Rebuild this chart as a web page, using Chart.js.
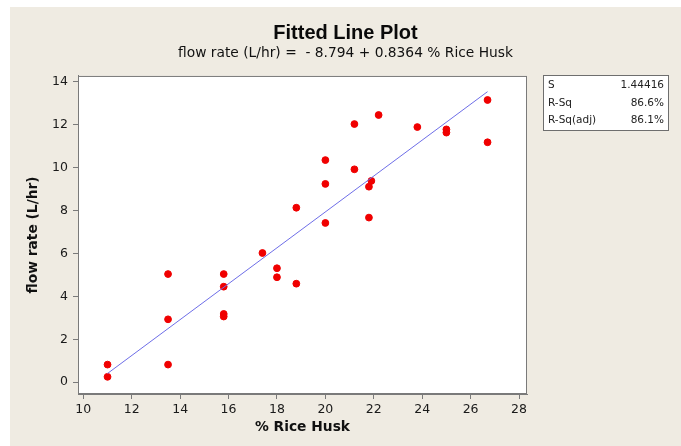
<!DOCTYPE html>
<html lang="en">
<head>
    <meta charset="UTF-8">
    <title>Fitted Line Plot</title>
    <script src="https://cdn.jsdelivr.net/npm/chart.js"></script>
    <style>
        html, body { margin: 0; padding: 0; background: #ffffff; }
        #wrap { width: 681px; height: 446px; }
    </style>
</head>
<body>
    <div id="wrap"><canvas id="fitChart" width="681" height="446"></canvas></div>

    <script>
        // % Rice Husk vs flow rate readings
        const riceHusk = [11.0, 11.0, 13.5, 13.5, 13.5, 15.8, 15.8, 15.8, 15.8, 17.4, 18.0, 18.0,
                          18.8, 18.8, 20.0, 20.0, 20.0, 21.2, 21.2, 21.8, 21.8, 21.9, 22.2, 23.8,
                          25.0, 25.0, 26.7, 26.7];
        const flowRate = [0.82, 0.25, 5.04, 2.93, 0.82, 5.04, 4.45, 3.18, 3.06, 6.02, 5.31, 4.89,
                          8.13, 4.59, 10.35, 9.24, 7.42, 12.03, 9.92, 9.11, 7.67, 9.38, 12.45, 11.89,
                          11.78, 11.63, 13.15, 11.18];

        // regression: flow = intercept + slope * husk
        const intercept = -8.794;
        const slope = 0.8364;

        const xTicks = [10, 12, 14, 16, 18, 20, 22, 24, 26, 28];
        const yTicks = [0, 2, 4, 6, 8, 10, 12, 14];

        const statLabels = ['S', 'R-Sq', 'R-Sq(adj)'];
        const statValues = ['1.44416', '86.6%', '86.1%'];

        const points = riceHusk.map((x, i) => ({ x: x, y: flowRate[i] }));
        const xLo = Math.min(...riceHusk);
        const xHi = Math.max(...riceHusk);
        const fitLine = [xLo, xHi].map(x => ({ x: x, y: intercept + slope * x }));

        const frame = {
            id: 'frame',
            beforeDraw(chart) {
                const c = chart.ctx;
                const a = chart.chartArea;
                c.save();
                c.fillStyle = '#ffffff';
                c.fillRect(0, 0, chart.width, chart.height);
                c.fillStyle = '#efebe2';
                c.fillRect(10, 7, chart.width - 10, chart.height - 7);
                c.fillStyle = '#ffffff';
                c.fillRect(a.left, a.top, a.right - a.left, a.bottom - a.top);
                c.restore();
            },
            afterDraw(chart) {
                const c = chart.ctx;
                const a = chart.chartArea;
                c.save();
                c.strokeStyle = '#7a7a7a';
                c.lineWidth = 1;
                c.strokeRect(a.left + 0.5, a.top + 0.5, a.right - a.left - 1, a.bottom - a.top - 1);

                // summary box
                c.fillStyle = '#ffffff';
                c.fillRect(543, 75, 125, 55);
                c.strokeStyle = '#6e6e6e';
                c.strokeRect(543.5, 75.5, 125, 55);
                c.fillStyle = '#222222';
                c.font = '10.5px "DejaVu Sans"';
                c.textBaseline = 'middle';
                statLabels.forEach((s, i) => {
                    const y = 85.5 + i * 17.5;
                    c.textAlign = 'left';
                    c.fillText(s, 548, y);
                    c.textAlign = 'right';
                    c.fillText(statValues[i], 664, y);
                });
                c.restore();
            }
        };

        const tickFont = { family: 'DejaVu Sans', size: 12.5 };
        const axisTitleFont = { family: 'DejaVu Sans', size: 13.8, weight: 'bold' };

        new Chart(document.getElementById('fitChart'), {
            type: 'scatter',
            data: {
                datasets: [
                    {
                        label: 'fit',
                        type: 'line',
                        data: fitLine,
                        borderColor: 'rgb(110, 110, 232)',
                        borderWidth: 1,
                        pointRadius: 0,
                        fill: false
                    },
                    {
                        label: 'flow rate',
                        data: points,
                        backgroundColor: 'rgb(240, 0, 0)',
                        borderColor: 'rgb(240, 0, 0)',
                        pointRadius: 3.4,
                        pointHoverRadius: 3.4
                    }
                ]
            },
            options: {
                responsive: false,
                animation: false,
                layout: { padding: { top: 7, left: 10, right: 0, bottom: 0 } },
                plugins: {
                    legend: { display: false },
                    tooltip: { enabled: false },
                    title: {
                        display: true,
                        text: 'Fitted Line Plot',
                        color: '#0a0a0a',
                        font: { family: 'Liberation Sans', size: 20, weight: 'bold' },
                        padding: { top: 14, bottom: 0 }
                    },
                    subtitle: {
                        display: true,
                        text: 'flow rate (L/hr) =  - 8.794 + 0.8364 % Rice Husk',
                        color: '#111111',
                        font: { family: 'DejaVu Sans', size: 13.8 },
                        padding: { top: 0, bottom: 14.4 }
                    }
                },
                scales: {
                    x: {
                        type: 'linear',
                        min: 9.78,
                        max: 28.33,
                        afterBuildTicks: s => { s.ticks = xTicks.map(v => ({ value: v })); },
                        afterFit: s => { s.height = 52; },
                        ticks: { font: tickFont, color: '#1a1a1a', padding: 3, maxRotation: 0 },
                        grid: { drawOnChartArea: false, drawTicks: true, tickLength: 5, color: '#7a7a7a' },
                        border: { display: true, color: '#7a7a7a' },
                        title: {
                            display: true,
                            text: '% Rice Husk',
                            color: '#111111',
                            font: axisTitleFont,
                            padding: { top: 10, bottom: 10 }
                        }
                    },
                    y: {
                        type: 'linear',
                        min: -0.55,
                        max: 14.27,
                        afterBuildTicks: s => { s.ticks = yTicks.map(v => ({ value: v })); },
                        afterFit: s => { s.width = 68; },
                        ticks: { font: tickFont, color: '#1a1a1a', padding: 5 },
                        grid: { drawOnChartArea: false, drawTicks: true, tickLength: 5, color: '#7a7a7a' },
                        border: { display: true, color: '#7a7a7a' },
                        title: {
                            display: true,
                            text: 'flow rate (L/hr)',
                            color: '#111111',
                            font: axisTitleFont,
                            padding: { top: 15, bottom: 15 }
                        }
                    },
                    side: {
                        type: 'linear',
                        position: 'right',
                        display: true,
                        afterFit: s => { s.width = 154; },
                        ticks: { display: false },
                        grid: { display: false },
                        border: { display: false }
                    }
                }
            },
            plugins: [frame]
        });
    </script>
</body>
</html>
